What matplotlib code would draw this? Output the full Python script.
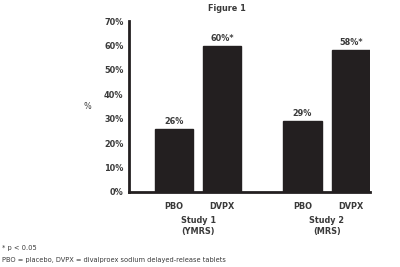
import matplotlib
matplotlib.use("Agg")
import matplotlib.pyplot as plt

# data
groups = ["Study 1\n(YMRS)", "Study 2\n(MRS)"]
arms = ["PBO", "DVPX", "PBO", "DVPX"]
values = [26, 60, 29, 58]
labels = ["26%", "60%*", "29%", "58%*"]
yticks = [0, 10, 20, 30, 40, 50, 60, 70]

plt.rcParams["font.family"] = ["DejaVu Sans"]
plt.rcParams["font.stretch"] = "condensed"

txt = "#3a3a3a"
barc = "#231f20"

fig = plt.figure(figsize=(4, 2.67), dpi=100)
ax = fig.add_axes([0.3225, 0.281, 0.6025, 0.64])

pos = [0, 1, 2.66, 3.66]
ax.bar(pos, values, width=0.79, color=barc, edgecolor=barc)
for p, v, l in zip(pos, values, labels):
    ax.text(p, v + 1.2, l, ha="center", va="bottom", fontsize=6.5, fontweight="bold",
            fontstretch="condensed", color=txt)

ax.set_xlim(-0.93, 4.055)
ax.set_ylim(0, 70)
ax.set_yticks(yticks)
ax.set_yticklabels([f"{t}%" for t in yticks], fontsize=6.5, fontweight="bold",
                   fontstretch="condensed", color=txt)
ax.tick_params(axis="y", length=0, pad=4)
ax.set_xticks(pos)
ax.set_xticklabels(arms, fontsize=6.5, fontweight="bold", fontstretch="condensed", color=txt)
ax.tick_params(axis="x", length=0, pad=7)

for s in ["top", "right"]:
    ax.spines[s].set_visible(False)
for s in ["left", "bottom"]:
    ax.spines[s].set_linewidth(2)
    ax.spines[s].set_color(barc)

ax.set_ylabel("%", rotation=0, fontsize=6.5, fontstretch="condensed", color=txt,
              labelpad=12, va="center")

for gx, g in zip([0.5, 3.16], groups):
    ax.text(gx, -0.14, g, transform=ax.get_xaxis_transform(), ha="center", va="top",
            fontsize=6.5, fontweight="bold", fontstretch="condensed", color=txt, linespacing=1.25)

fig.text(0.567, 0.967, "Figure 1", ha="center", va="center", fontsize=6.5, fontweight="bold",
         fontstretch="condensed", color=txt)
fig.text(0.005, 0.072, "* p < 0.05", ha="left", va="center", fontsize=5.3,
         fontstretch="condensed", color=txt)
fig.text(0.005, 0.026, "PBO = placebo, DVPX = divalproex sodium delayed-release tablets",
         ha="left", va="center", fontsize=5.3, fontstretch="condensed", color=txt)

fig.savefig("out.png", dpi=100)
